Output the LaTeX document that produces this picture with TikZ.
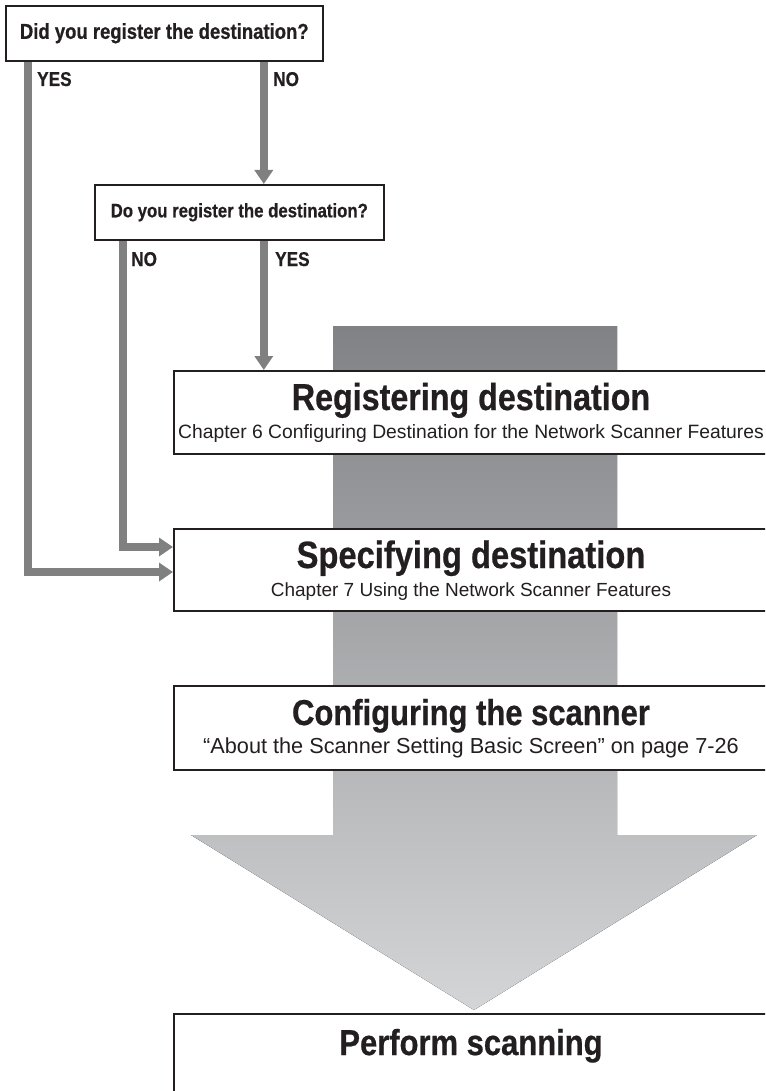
\documentclass[tikz,border=0pt]{standalone}
\usepackage{fontspec}
\setmainfont{Liberation Sans}
\newfontfamily\headfont[FakeStretch=0.86, BoldFeatures={FakeBold=0.6}]{Liberation Sans}
\usetikzlibrary{arrows.meta}
\definecolor{flowgray}{HTML}{808080}
\definecolor{inkblack}{HTML}{231F20}
\definecolor{shadetop}{HTML}{808285}
\definecolor{shadebot}{HTML}{D4D5D7}
\tikzset{
  qbox/.style={draw=inkblack, line width=1.6pt, fill=white, anchor=north west,
    inner sep=0pt, minimum height=55pt, text=inkblack},
  stepbox/.style={draw=inkblack, line width=2pt, fill=white, anchor=north west,
    inner sep=0pt, minimum width=600pt},
  steptitle/.style={anchor=base, inner sep=0pt, text=inkblack,
    font=\headfont\bfseries\fontsize{36}{40}\selectfont},
  stepref/.style={anchor=base, inner sep=0pt, text=inkblack,
    font=\fontsize{19}{22}\selectfont},
  answer/.style={anchor=base west, inner sep=0pt, text=inkblack,
    font=\headfont\bfseries\fontsize{20}{24}\selectfont},
  flow/.style={draw=flowgray, line width=8pt, line join=miter,
    -{Triangle[width=18pt,length=14pt,fill=flowgray]}},
}
\begin{document}
\begin{tikzpicture}[x=1pt,y=-1pt]
\useasboundingbox (0,0) rectangle (765,1091);
\clip (0,0) rectangle (765,1091);

% big shaded arrow behind the steps
\fill[top color=shadetop, bottom color=shadebot]
  (333,326) -- (617,326) -- (617,835) -- (757,835) -- (474,1010)
  -- (191,835) -- (333,835) -- cycle;

% questions
\node[qbox, minimum width=317pt, font=\headfont\bfseries\fontsize{21.5}{24}\selectfont]
  (askdid) at (5,5) {Did you register the destination?};
\node[qbox, minimum width=289pt, font=\headfont\bfseries\fontsize{19.5}{22}\selectfont]
  (askdo) at (94,184) {Do you register the destination?};

% steps
\node[stepbox, minimum height=83pt] (regbox) at (173,370) {};
\node[steptitle, font=\headfont\bfseries\fontsize{37.5}{40}\selectfont] (regtitle) at (471,410) {Registering destination};
\node[stepref, font=\fontsize{19.3}{22}\selectfont] (regref) at (471,438) {Chapter 6 Configuring Destination for the Network Scanner Features};

\node[stepbox, minimum height=82pt] (specbox) at (173,528) {};
\node[steptitle, font=\headfont\bfseries\fontsize{38}{40}\selectfont] (spectitle) at (471,568) {Specifying destination};
\node[stepref] (specref) at (471,596) {Chapter 7 Using the Network Scanner Features};

\node[stepbox, minimum height=84pt] (confbox) at (173,685) {};
\node[steptitle] (conftitle) at (471,725) {Configuring the scanner};
\node[stepref, font=\fontsize{21.7}{24}\selectfont] (confref) at (471,753) {``About the Scanner Setting Basic Screen'' on page 7-26};

\node[stepbox, minimum height=120pt] (scanbox) at (173,1013) {};
\node[steptitle] (scantitle) at (471,1055) {Perform scanning};

% answers
\node[answer] (didyes) at (37,86) {YES};
\node[answer] (didno) at (273,86) {NO};
\node[answer] (dono) at (131,266) {NO};
\node[answer] (doyes) at (275,266) {YES};

% connectors
\coordinate (yesturn) at (28,572);
\coordinate (noturn) at (123,547);
\draw[flow] (askdid.south -| yesturn) -- (yesturn) -- (specbox.west |- yesturn);
\draw[flow] ([xshift=99.5pt]askdid.south) -- ([xshift=99.5pt]askdid.south |- askdo.north);
\draw[flow] (askdo.south -| noturn) -- (noturn) -- (specbox.west |- noturn);
\draw[flow] ([xshift=24.5pt]askdo.south) -- ([xshift=24.5pt]askdo.south |- regbox.north);
\end{tikzpicture}
\end{document}
